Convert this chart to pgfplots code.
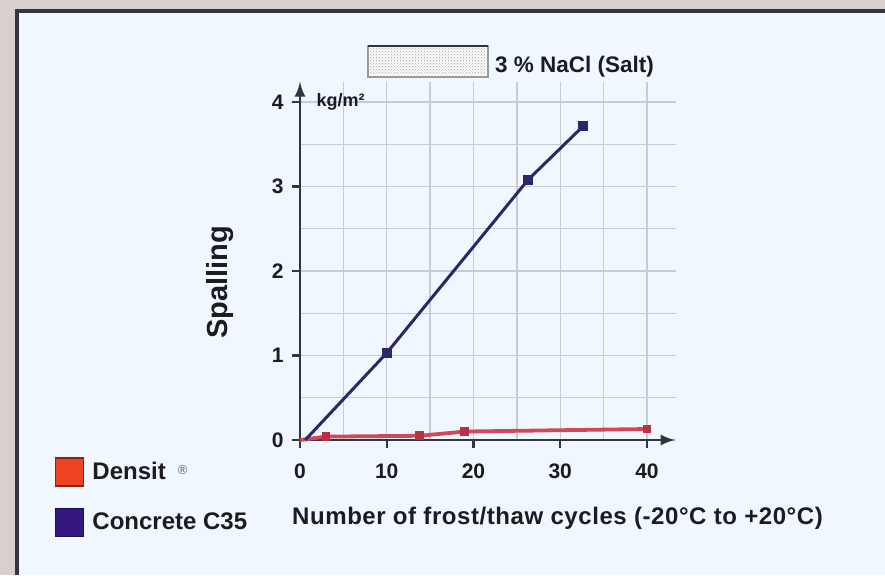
\documentclass[border=0pt]{standalone}
\usepackage{fontspec}
\setmainfont{Liberation Sans}
\usepackage{pgfplots}
\usepackage{pgfplotstable}
\pgfplotsset{compat=1.18}
\usetikzlibrary{arrows.meta,patterns}
\definecolor{framec}{RGB}{215,208,205}
\definecolor{frameline}{RGB}{55,52,58}
\definecolor{panel}{RGB}{240,247,255}
\definecolor{gridc}{RGB}{198,204,210}
\definecolor{axisc}{RGB}{50,54,62}
\definecolor{navy}{RGB}{45,38,102}
\definecolor{navyleg}{RGB}{52,24,128}
\definecolor{densit}{RGB}{210,72,88}
\definecolor{densitm}{RGB}{185,50,68}
\definecolor{redleg}{RGB}{238,68,36}
\definecolor{txt}{RGB}{28,28,30}

\pgfplotstableread{
x y
0 0
3 0.04
13.8 0.05
19 0.10
40 0.13
}\densittab
\pgfplotstableread{
x y
0.6 0
10 1.03
26.3 3.08
32.6 3.71
}\concretetab

\begin{document}
\begin{tikzpicture}
\useasboundingbox (0,0) rectangle (885pt,575pt);
\fill[framec] (0,0) rectangle (885pt,575pt);
\fill[frameline] (15pt,0) rectangle (885pt,566pt);
\fill[panel] (19pt,0) rectangle (885pt,562pt);
% title box
\fill[white!96!gray] (368pt,498pt) rectangle (488pt,529pt);
\fill[pattern=crosshatch dots, pattern color=gray!70] (370pt,500pt) rectangle (486pt,527pt);
\draw[gray!80, line width=1.5pt] (368pt,498pt) rectangle (488pt,529pt);
\draw[gray!40!black, line width=2pt] (368pt,529pt) -- (488pt,529pt);
\node[anchor=west, text=txt, font=\fontsize{22.5}{22.5}\selectfont\bfseries, inner sep=0pt] at (495pt,508pt) {3 \% NaCl (Salt)};

\begin{axis}[
 at={(300pt,135pt)}, anchor=south west,
 scale only axis, width=375.6pt, height=358.3pt,
 xmin=0, xmax=43.3, ymin=0, ymax=4.24,
 axis lines=left,
 axis line style={axisc, line width=2.6pt, -{Latex[length=15pt,width=11pt]}},
 xtick={0,10,20,30,40}, ytick={0,1,2,3,4},
 minor x tick num=1, minor y tick num=1,
 grid=both,
 major grid style={gridc, line width=1.3pt},
 minor grid style={gridc, line width=1.3pt},
 tick align=outside,
 major tick length=8pt, minor tick length=0pt,
 tick style={axisc, line width=2.2pt},
 ticklabel style={font=\fontsize{21}{21}\selectfont\bfseries, text=txt},
 xticklabel style={yshift=-12pt},
 yticklabel style={xshift=-5pt},
 /pgf/number format/assume math mode=true,
 xlabel={Number of frost/thaw cycles (-20°C to +20°C)},
 xlabel style={at={(axis description cs:-0.0213,-0.2177)}, anchor=west, inner sep=0pt, font=\fontsize{24}{24}\selectfont\bfseries\addfontfeature{LetterSpace=2.4}, text=txt},
 ylabel={Spalling},
 ylabel style={at={(axis description cs:-0.2130,0.441)}, anchor=center, inner sep=0pt, font=\fontsize{29}{29}\selectfont\bfseries, text=txt},
 clip=false,
 legend image code/.code={\draw[#1] (0pt,-14pt) rectangle (28pt,14pt);},
 legend cell align=left,
 legend style={at={(axis description cs:-0.6523,-0.0475)}, anchor=north west, draw=none, fill=none, inner sep=0pt, outer sep=0pt, row sep=21pt, font=\fontsize{24}{24}\selectfont\bfseries, text=txt, nodes={inner sep=0pt}, /tikz/every odd column/.append style={column sep=8pt}},
]
\addplot[densit, line width=3.8pt, mark=square*, mark size=2.5pt, mark indices={2,3,4,5}, mark options={densitm}, forget plot] table {\densittab};
\addplot[navy, line width=3pt, mark=square*, mark size=3.5pt, mark indices={2,3,4}, forget plot] table {\concretetab};
\node[anchor=west, font=\fontsize{18}{18}\selectfont\bfseries, text=txt] at (axis cs:1.5,4.0) {kg/m²};
\addlegendimage{fill=redleg, draw=redleg!55!black, line width=1.5pt}
\addlegendentry{Densit\hspace{12pt}\raisebox{5pt}{\textcolor{gray}{\fontsize{13}{13}\selectfont ®}}}
\addlegendimage{fill=navyleg, draw=navyleg!60!black, line width=1.5pt}
\addlegendentry{Concrete C35}
\end{axis}
\end{tikzpicture}
\end{document}
